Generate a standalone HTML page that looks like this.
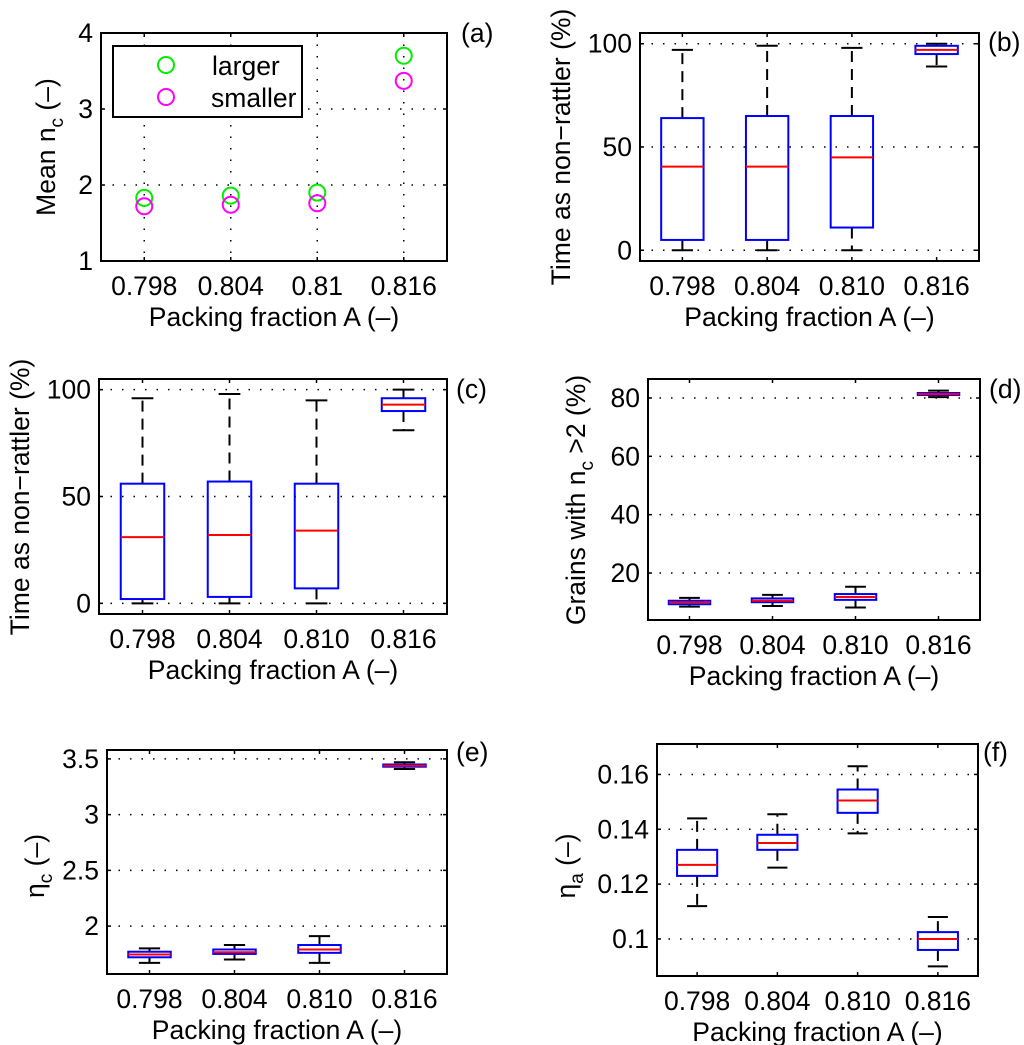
<!DOCTYPE html>
<html><head><meta charset="utf-8"><style>
html,body{margin:0;padding:0;background:#fff;}
svg{display:block;font-family:"Liberation Sans",sans-serif;}
</style></head><body>
<svg id="fig" width="1024" height="1045" viewBox="0 0 1024 1045" xmlns="http://www.w3.org/2000/svg"></svg>
<script>
const categories = ["0.798","0.804","0.810","0.816"];
const catsA = ["0.798","0.804","0.81","0.816"];
// panel a
const largerVals = [1.83, 1.86, 1.90, 3.70];
const smallerVals = [1.72, 1.74, 1.76, 3.37];
const ticksA = [1,2,3,4];
// panel b: [low whisker, q1, median, q3, high whisker]
const boxB = [[0,5,40.5,64,97],[0,5,40.5,65,99],[0,11,45,65,98],[89,95,97,99,100]];
const ticksB = [0,50,100];
// panel c
const boxC = [[0,2,31,56,96],[0,3,32,57,98],[0,7,34,56,95],[81,90,93,96,100]];
const ticksC = [0,50,100];
// panel d
const boxD = [[8.5,9.3,10,10.5,11.5],[8.7,10,10.5,11.3,12.5],[8.2,10.8,11.8,12.8,15.3],[80.3,81,81.3,81.7,82.5]];
const ticksD = [20,40,60,80];
// panel e
const boxE = [[1.67,1.72,1.745,1.77,1.80],[1.70,1.75,1.765,1.79,1.83],[1.67,1.76,1.79,1.83,1.91],[3.41,3.43,3.44,3.45,3.47]];
const ticksE = [2,2.5,3,3.5];
const tickLabE = ["2","2.5","3","3.5"];
// panel f
const boxF = [[0.112,0.123,0.127,0.1325,0.144],[0.126,0.1325,0.135,0.138,0.1455],[0.1385,0.146,0.1505,0.1545,0.163],[0.090,0.096,0.100,0.1025,0.108]];
const ticksF = [0.1,0.12,0.14,0.16];
const tickLabF = ["0.1","0.12","0.14","0.16"];

const FS = 26.5;
const LW = 2;
const NS = "http://www.w3.org/2000/svg";
const fig = document.getElementById('fig');
function mk(tag, attrs, parent){const e=document.createElementNS(NS,tag);for(const k in attrs)e.setAttribute(k,attrs[k]);(parent||fig).appendChild(e);return e;}

function panel(p){
  const g = mk('g',{});
  
  
  const xs = i => p.x0 + (i+0.5)*(p.x1-p.x0)/p.n;
  const ys = v => p.y1 - (v-p.ymin)/(p.ymax-p.ymin)*(p.y1-p.y0);
  p.ticks.forEach((t,i)=>{
    const y=ys(t);
    const gl=mk('line',{x1:p.x0,x2:p.x1,y1:y,y2:y,stroke:'#000','stroke-width':1.5,'stroke-dasharray':'1.5 10'},g);
    
    
    mk('line',{x1:p.x0,x2:p.x0+4,y1:y,y2:y,stroke:'#000','stroke-width':1.5},g);
    mk('line',{x1:p.x1,x2:p.x1-4,y1:y,y2:y,stroke:'#000','stroke-width':1.5},g);
    const tl=mk('text',{x:p.x0-8,y:y+9,'font-size':FS,'text-anchor':'end'},g);
    tl.textContent = p.tickLabels ? p.tickLabels[i] : String(t);
    
    
  });
  for(let i=0;i<p.n;i++){
    const x=xs(i);
    if(p.vgrid){
      const vl=mk('line',{x1:x,x2:x,y1:p.y0,y2:p.y1,stroke:'#000','stroke-width':1.5,'stroke-dasharray':'1.5 10'},g);
      
      
    }
    mk('line',{x1:x,x2:x,y1:p.y1,y2:p.y1-4,stroke:'#000','stroke-width':1.5},g);
    mk('line',{x1:x,x2:x,y1:p.y0,y2:p.y0+4,stroke:'#000','stroke-width':1.5},g);
    const xl=mk('text',{x:x,y:p.y1+34,'font-size':FS,'text-anchor':'middle'},g);
    xl.textContent = p.cats[i];
    
    
  }
  if(p.boxes){
    const hw=(p.x1-p.x0)/p.n*0.25, cw=hw*0.5;
    p.boxes.forEach((b,i)=>{
      const x=xs(i);
      const bg=mk('g',{},g);
      
      
      mk('line',{x1:x,x2:x,y1:ys(b[3]),y2:ys(b[4]),stroke:'#000','stroke-width':LW,'stroke-dasharray':'11 7'},bg);
      mk('line',{x1:x,x2:x,y1:ys(b[1]),y2:ys(b[0]),stroke:'#000','stroke-width':LW,'stroke-dasharray':'11 7'},bg);
      mk('line',{x1:x-cw,x2:x+cw,y1:ys(b[4]),y2:ys(b[4]),stroke:'#000','stroke-width':LW},bg);
      mk('line',{x1:x-cw,x2:x+cw,y1:ys(b[0]),y2:ys(b[0]),stroke:'#000','stroke-width':LW},bg);
      mk('rect',{x:x-hw,y:ys(b[3]),width:2*hw,height:Math.max(ys(b[1])-ys(b[3]),1),fill:'none',stroke:'#0000ff','stroke-width':LW},bg);
      mk('line',{x1:x-hw,x2:x+hw,y1:ys(b[2]),y2:ys(b[2]),stroke:'#ff0000','stroke-width':LW},bg);
    });
  }
  if(p.scatter){
    p.scatter.forEach(s=>{
      s.vals.forEach((v,i)=>{
        const c=mk('circle',{cx:xs(i),cy:ys(v),r:8,fill:'none',stroke:s.color,'stroke-width':LW},g);
        
        
      });
    });
  }
  const fr=mk('rect',{x:p.x0,y:p.y0,width:p.x1-p.x0,height:p.y1-p.y0,fill:'none',stroke:'#000','stroke-width':LW},g);
  
  
  const xt=mk('text',{x:(p.x0+p.x1)/2,y:p.y1+65,'font-size':FS,'text-anchor':'middle'},g);
  xt.textContent='Packing fraction A (\u2013)';
  
  
  const yt=mk('text',{x:0,y:0,'font-size':FS,'text-anchor':'middle',transform:`translate(${p.ylx},${p.yly}) rotate(-90)`},g);
  yt.innerHTML=p.ylabel;
  
  
  const pl=mk('text',{x:p.lx,y:p.ly,'font-size':FS},g);
  pl.textContent='('+p.id+')';
  
  
  return g;
}
const sub = s => `<tspan font-size="19" dy="8">${s}</tspan><tspan dy="-8"> </tspan>`;
panel({id:'a',x0:101,x1:447,y0:33,y1:261,ymin:1,ymax:4,n:4,ticks:ticksA,cats:catsA,vgrid:true,
  scatter:[{vals:largerVals,color:'#00ee00',name:'larger'},{vals:smallerVals,color:'#ff00ff',name:'smaller'}],
  ylabel:'Mean n'+sub('c')+'(\u2013)',ylx:55,yly:147,lx:461,ly:42});
panel({id:'b',x0:640,x1:979,y0:33,y1:261,ymin:-5.2,ymax:105.2,n:4,ticks:ticksB,cats:categories,boxes:boxB,
  ylabel:'Time as non\u2212rattler (%)',ylx:570,yly:147,lx:988,ly:51});
panel({id:'c',x0:99,x1:447,y0:379,y1:614,ymin:-5,ymax:105,n:4,ticks:ticksC,cats:categories,boxes:boxC,
  ylabel:'Time as non\u2212rattler (%)',ylx:29,yly:497,lx:456,ly:398});
panel({id:'d',x0:648,x1:980,y0:379,y1:620,ymin:3.9,ymax:86.5,n:4,ticks:ticksD,cats:categories,boxes:boxD,
  ylabel:'Grains with n'+sub('c')+'&gt;2 (%)',ylx:585,yly:500,lx:989,ly:398});
panel({id:'e',x0:107,x1:447,y0:750,y1:974,ymin:1.57,ymax:3.58,n:4,ticks:ticksE,tickLabels:tickLabE,cats:categories,boxes:boxE,
  ylabel:'\u03b7'+sub('c')+'(\u2013)',ylx:44,yly:866,lx:456,ly:761});
panel({id:'f',x0:657,x1:978,y0:744,y1:976,ymin:0.0865,ymax:0.1711,n:4,ticks:ticksF,tickLabels:tickLabF,cats:categories,boxes:boxF,
  ylabel:'\u03b7'+sub('a')+'(\u2013)',ylx:575,yly:866,lx:983,ly:761});
const lg=mk('g',{});


mk('rect',{x:113,y:46,width:189,height:71,fill:'#fff',stroke:'#000','stroke-width':LW},lg);
mk('circle',{cx:166,cy:65,r:8,fill:'none',stroke:'#00ee00','stroke-width':LW},lg);
mk('circle',{cx:166,cy:97,r:8,fill:'none',stroke:'#ff00ff','stroke-width':LW},lg);
const t1=mk('text',{x:212,y:75,'font-size':FS},lg);t1.textContent='larger';


const t2=mk('text',{x:211,y:107,'font-size':FS},lg);t2.textContent='smaller';


</script>
</body></html>
